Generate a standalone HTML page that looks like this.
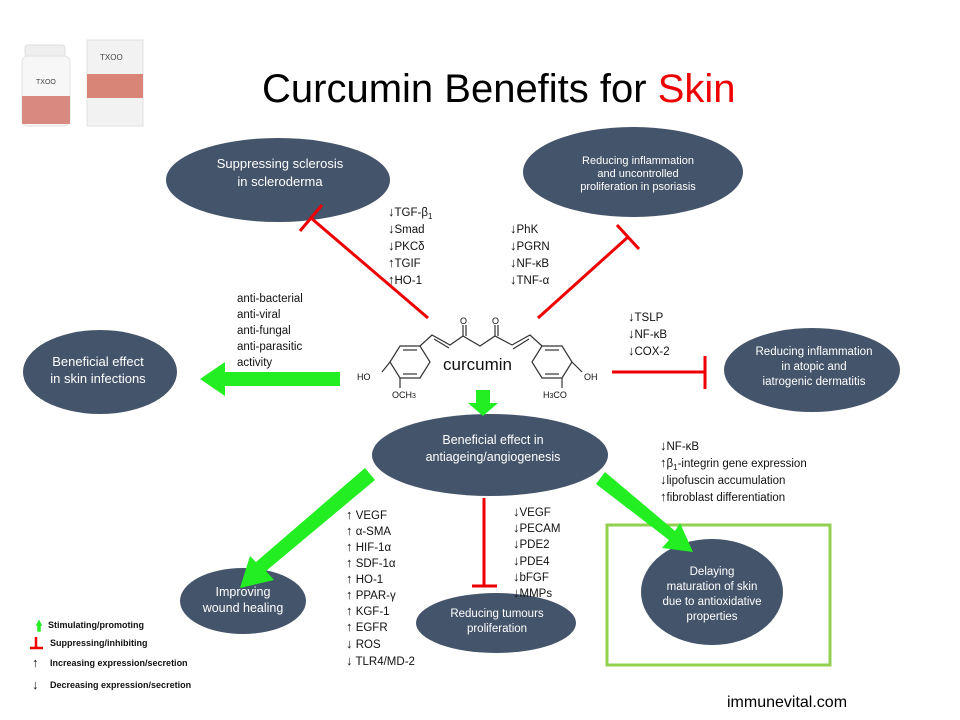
<!DOCTYPE html>
<html><head><meta charset="utf-8"><style>
html,body{margin:0;padding:0;background:#fff}
svg{display:block}
text{font-family:"Liberation Sans",sans-serif}
.w{fill:#fff;font-size:12px}
.l{fill:#111;font-size:11.5px}
.a{font-weight:bold;font-size:13px}
</style></head><body>
<svg width="960" height="720" viewBox="0 0 960 720" xmlns="http://www.w3.org/2000/svg">
<g>
<rect x="25" y="45" width="40" height="12" rx="3" fill="#eee" stroke="#ddd"/>
<rect x="22" y="56" width="48" height="70" rx="6" fill="#f7f7f7" stroke="#e2e2e2"/>
<rect x="22" y="96" width="48" height="28" fill="#d98a80"/>
<text x="36" y="84" font-size="7" fill="#444">TXOO</text>
<rect x="87" y="40" width="56" height="86" fill="#f2f2f2" stroke="#e0e0e0"/>
<rect x="87" y="74" width="56" height="24" fill="#d88476"/>
<text x="100" y="60" font-size="8" fill="#444">TXOO</text>
</g>
<text x="262" y="102" font-size="40" fill="#000">Curcumin Benefits for <tspan fill="#e00">Skin</tspan></text>

<g fill="#44546a">
<ellipse cx="278" cy="180" rx="112" ry="42"/>
<ellipse cx="633" cy="172" rx="110" ry="45"/>
<ellipse cx="100" cy="372" rx="77" ry="42"/>
<ellipse cx="812" cy="370" rx="88" ry="42"/>
<ellipse cx="490" cy="455" rx="118" ry="41"/>
<ellipse cx="243" cy="601" rx="63" ry="33"/>
<ellipse cx="496" cy="623" rx="80" ry="30"/>
<ellipse cx="712" cy="592" rx="71" ry="53"/>
</g>
<g class="w" text-anchor="middle">
<text x="280" y="168" font-size="13">Suppressing sclerosis</text>
<text x="280" y="186" font-size="13">in scleroderma</text>
<text x="638" y="164" font-size="11">Reducing inflammation</text>
<text x="638" y="177" font-size="11">and uncontrolled</text>
<text x="638" y="190" font-size="11">proliferation in psoriasis</text>
<text x="98" y="366" font-size="13">Beneficial effect</text>
<text x="98" y="383" font-size="13">in skin infections</text>
<text x="814" y="355" font-size="11.5">Reducing inflammation</text>
<text x="814" y="370" font-size="11.5">in atopic and</text>
<text x="814" y="385" font-size="11.5">iatrogenic dermatitis</text>
<text x="493" y="444" font-size="12.5">Beneficial effect in</text>
<text x="493" y="461" font-size="12.5">antiageing/angiogenesis</text>
<text x="243" y="596" font-size="12.5">Improving</text>
<text x="243" y="612" font-size="12.5">wound healing</text>
<text x="497" y="617" font-size="11.5">Reducing tumours</text>
<text x="497" y="632" font-size="11.5">proliferation</text>
<text x="712" y="575" font-size="11.5">Delaying</text>
<text x="712" y="590" font-size="11.5">maturation of skin</text>
<text x="712" y="605" font-size="11.5">due to antioxidative</text>
<text x="712" y="620" font-size="11.5">properties</text>
</g>

<rect x="607" y="525" width="223" height="140" fill="none" stroke="#92d050" stroke-width="3"/>

<g stroke="#e00" stroke-width="3" fill="none">
<line x1="428" y1="318" x2="311" y2="218"/><line x1="300" y1="231" x2="322" y2="205"/>
<line x1="538" y1="318" x2="628" y2="237"/><line x1="617" y1="225" x2="639" y2="249"/>
<line x1="612" y1="372" x2="705" y2="372"/><line x1="705" y1="356" x2="705" y2="389"/>
<line x1="484" y1="498" x2="484" y2="586"/><line x1="472" y1="586" x2="497" y2="586"/>
</g>

<g fill="#22ee22">
<polygon points="340,372 225,372 225,362 200,379 225,396 225,386 340,386"/>
<polygon points="476,390 490,390 490,403 498,403 483,416 468,403 476,403"/>
<polygon points="365,468 375,480 266,571 274,580 240,588 250,556 256,562"/>
<polygon points="605,472 596,484 669,540 662,548 693,552 680,523 675,531"/>
</g>

<g stroke="#333" stroke-width="1.2" fill="none">
<polygon points="400,346 420,346 430,362 420,378 400,378 390,362"/>
<line x1="403" y1="350" x2="417" y2="350"/><line x1="403" y1="374" x2="417" y2="374"/>
<polyline points="420,346 432,335 450,345 463,336 480,346 495,336 512,345 530,335 542,346"/>
<line x1="434" y1="339" x2="449" y2="348"/><line x1="513" y1="349" x2="529" y2="339"/>
<line x1="463" y1="336" x2="463" y2="325"/><line x1="466" y1="336" x2="466" y2="325"/>
<line x1="495" y1="336" x2="495" y2="325"/><line x1="498" y1="336" x2="498" y2="325"/>
<polygon points="542,346 562,346 572,362 562,378 542,378 532,362"/>
<line x1="545" y1="350" x2="559" y2="350"/><line x1="545" y1="374" x2="559" y2="374"/>
<line x1="390" y1="362" x2="382" y2="372"/><line x1="400" y1="378" x2="400" y2="388"/>
<line x1="572" y1="362" x2="582" y2="372"/><line x1="562" y1="378" x2="562" y2="388"/>
</g>
<g font-size="9" fill="#111">
<text x="460" y="324">O</text><text x="492" y="324">O</text>
<text x="357" y="380">HO</text><text x="392" y="398">OCH<tspan font-size="7">3</tspan></text>
<text x="584" y="380">OH</text><text x="543" y="398">H<tspan font-size="7">3</tspan>CO</text>
</g>
<text x="443" y="370" font-size="17" fill="#111">curcumin</text>

<g class="l">
<text x="388" y="216"><tspan class="a">↓</tspan>TGF-β<tspan font-size="8" dy="3">1</tspan></text>
<text x="388" y="233"><tspan class="a">↓</tspan>Smad</text>
<text x="388" y="250"><tspan class="a">↓</tspan>PKCδ</text>
<text x="388" y="267"><tspan class="a">↑</tspan>TGIF</text>
<text x="388" y="284"><tspan class="a">↑</tspan>HO-1</text>
<text x="510" y="233"><tspan class="a">↓</tspan>PhK</text>
<text x="510" y="250"><tspan class="a">↓</tspan>PGRN</text>
<text x="510" y="267"><tspan class="a">↓</tspan>NF-κB</text>
<text x="510" y="284"><tspan class="a">↓</tspan>TNF-α</text>
<text x="237" y="302">anti-bacterial</text>
<text x="237" y="318">anti-viral</text>
<text x="237" y="334">anti-fungal</text>
<text x="237" y="350">anti-parasitic</text>
<text x="237" y="366">activity</text>
<text x="628" y="321"><tspan class="a">↓</tspan>TSLP</text>
<text x="628" y="338"><tspan class="a">↓</tspan>NF-κB</text>
<text x="628" y="355"><tspan class="a">↓</tspan>COX-2</text>
<text x="660" y="450"><tspan class="a">↓</tspan>NF-κB</text>
<text x="660" y="467"><tspan class="a">↑</tspan>β<tspan font-size="8" dy="3">1</tspan><tspan dy="-3">-integrin gene expression</tspan></text>
<text x="660" y="484"><tspan class="a">↓</tspan>lipofuscin accumulation</text>
<text x="660" y="501"><tspan class="a">↑</tspan>fibroblast differentiation</text>
<text x="346" y="519"><tspan class="a">↑</tspan> VEGF</text>
<text x="346" y="535"><tspan class="a">↑</tspan> α-SMA</text>
<text x="346" y="551"><tspan class="a">↑</tspan> HIF-1α</text>
<text x="346" y="567"><tspan class="a">↑</tspan> SDF-1α</text>
<text x="346" y="583"><tspan class="a">↑</tspan> HO-1</text>
<text x="346" y="599"><tspan class="a">↑</tspan> PPAR-γ</text>
<text x="346" y="615"><tspan class="a">↑</tspan> KGF-1</text>
<text x="346" y="631"><tspan class="a">↑</tspan> EGFR</text>
<text x="346" y="648"><tspan class="a">↓</tspan> ROS</text>
<text x="346" y="665"><tspan class="a">↓</tspan> TLR4/MD-2</text>
<text x="513" y="516"><tspan class="a">↓</tspan>VEGF</text>
<text x="513" y="532"><tspan class="a">↓</tspan>PECAM</text>
<text x="513" y="548"><tspan class="a">↓</tspan>PDE2</text>
<text x="513" y="565"><tspan class="a">↓</tspan>PDE4</text>
<text x="513" y="581"><tspan class="a">↓</tspan>bFGF</text>
<text x="513" y="597"><tspan class="a">↓</tspan>MMPs</text>
</g>

<polygon points="37,625 39,621 41,625 40,625 40,631 38,631 38,625" fill="#22ee22" stroke="#22ee22" stroke-width="1.5"/>
<g stroke="#e00" stroke-width="2.5"><line x1="36" y1="637" x2="36" y2="647"/><line x1="30" y1="648" x2="43" y2="648"/></g>
<g font-size="9" font-weight="bold" fill="#111">
<text x="48" y="628">Stimulating/promoting</text>
<text x="50" y="646">Suppressing/inhibiting</text>
<text x="32" y="667" font-size="13">↑</text><text x="50" y="666">Increasing expression/secretion</text>
<text x="32" y="689" font-size="13">↓</text><text x="50" y="688">Decreasing expression/secretion</text>
</g>

<text x="727" y="707" font-size="16" fill="#000">immunevital.com</text>
</svg>
</body></html>
